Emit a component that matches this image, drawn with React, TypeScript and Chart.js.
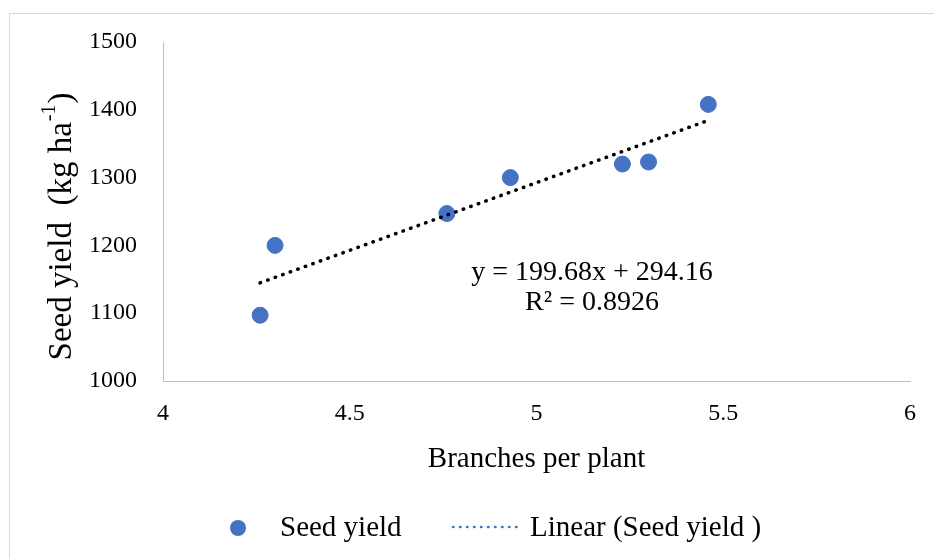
import React, { useEffect, useRef } from "react";
import { Chart, registerables } from "chart.js";

Chart.register(...registerables);

// ---- data ----
const branchesPerPlant = [4.26, 4.3, 4.76, 4.93, 5.23, 5.3, 5.46];
const seedYield = [1097, 1200, 1247, 1300, 1320, 1323, 1408];
const trendSlope = 199.68;
const trendIntercept = 294.16;
const trendR2 = "0.8926";
const xTickValues = [4, 4.5, 5, 5.5, 6];
const yTickValues = [1000, 1100, 1200, 1300, 1400, 1500];
const xTitle = "Branches per plant";
const yTitleMain = "Seed yield  (kg ha";
const yTitleSup = "-1";
const yTitleEnd = ")";
const seriesName = "Seed yield";
const trendName = "Linear (Seed yield )";

const FONT = "'Liberation Serif', 'Times New Roman', serif";
const BLUE = "#4472C4";

const xMin = Math.min(...branchesPerPlant);
const xMax = Math.max(...branchesPerPlant);
const trendPoints = [
  { x: xMin, y: trendSlope * xMin + trendIntercept },
  { x: xMax, y: trendSlope * xMax + trendIntercept },
];

const textPlugin = {
  id: "customText",
  afterDraw(chart: any) {
    const { ctx, chartArea } = chart;
    const ca = chartArea;
    ctx.save();
    ctx.fillStyle = "#000";
    // x title
    ctx.font = `29px ${FONT}`;
    ctx.textAlign = "center";
    ctx.textBaseline = "middle";
    ctx.fillText(xTitle, (ca.left + ca.right) / 2, ca.bottom + 78);

    // y title rotated with superscript
    ctx.save();
    ctx.translate(62, (ca.top + ca.bottom) / 2 + 15);
    ctx.rotate(-Math.PI / 2);
    ctx.textBaseline = "middle";
    ctx.textAlign = "left";
    ctx.font = `33px ${FONT}`;
    const w1 = ctx.measureText(yTitleMain).width;
    ctx.font = `20px ${FONT}`;
    const w2 = ctx.measureText(yTitleSup).width;
    ctx.font = `33px ${FONT}`;
    const w3 = ctx.measureText(yTitleEnd).width;
    const total = w1 + w2 + w3 + 2;
    let x = -total / 2;
    ctx.fillText(yTitleMain, x, 0);
    x += w1 + 1;
    ctx.font = `20px ${FONT}`;
    ctx.fillText(yTitleSup, x, -12);
    x += w2 + 1;
    ctx.font = `33px ${FONT}`;
    ctx.fillText(yTitleEnd, x, 0);
    ctx.restore();

    // equation
    ctx.font = `28px ${FONT}`;
    ctx.textAlign = "center";
    ctx.textBaseline = "middle";
    const eq = `y = ${trendSlope}x + ${trendIntercept}`;
    ctx.fillText(eq, 592, 273);
    ctx.fillText(`R² = ${trendR2}`, 592, 303);

    // legend
    const ly = 528;
    ctx.beginPath();
    ctx.arc(238, ly, 8, 0, Math.PI * 2);
    ctx.fillStyle = BLUE;
    ctx.fill();
    ctx.fillStyle = "#000";
    ctx.font = `29px ${FONT}`;
    ctx.textAlign = "left";
    ctx.fillText(seriesName, 280, ly);
    ctx.beginPath();
    ctx.strokeStyle = BLUE;
    ctx.lineWidth = 2.5;
    ctx.lineCap = "round";
    ctx.setLineDash([0.5, 6.5]);
    ctx.moveTo(453, ly - 1);
    ctx.lineTo(522, ly - 1);
    ctx.stroke();
    ctx.setLineDash([]);
    ctx.fillText(trendName, 530, ly);
    ctx.restore();
  },
};

export default function App() {
  const ref = useRef<HTMLCanvasElement | null>(null);
  useEffect(() => {
    if (!ref.current) return;
    const chart = new Chart(ref.current, {
      type: "scatter",
      data: {
        datasets: [
          {
            type: "line",
            label: trendName,
            data: trendPoints,
            borderColor: "#000",
            borderWidth: 3.5,
            borderDash: [0.5, 7.5],
            borderCapStyle: "round",
            pointRadius: 0,
            fill: false,
            order: 1,
          } as any,
          {
            type: "scatter",
            label: seriesName,
            data: branchesPerPlant.map((x, i) => ({ x, y: seedYield[i] })),
            backgroundColor: BLUE,
            borderColor: BLUE,
            pointRadius: 8,
            pointHoverRadius: 8,
            order: 2,
          },
        ],
      },
      options: {
        responsive: false,
        animation: false,
        devicePixelRatio: 1,
        layout: { padding: { left: 0, right: 24, top: 42, bottom: 0 } },
        plugins: { legend: { display: false }, tooltip: { enabled: false } },
        scales: {
          x: {
            type: "linear",
            min: xTickValues[0],
            max: xTickValues[xTickValues.length - 1],
            afterBuildTicks: (s: any) => {
              s.ticks = xTickValues.map((v) => ({ value: v }));
            },
            afterFit: (s: any) => {
              s.height = 178;
            },
            grid: { display: false, drawTicks: false },
            border: { display: true, color: "#bfbfbf", width: 1 },
            ticks: {
              padding: 18,
              color: "#000",
              font: { family: FONT, size: 24 },
              callback: (v: any) => String(v),
              maxRotation: 0,
            },
          },
          y: {
            type: "linear",
            min: yTickValues[0],
            max: yTickValues[yTickValues.length - 1],
            afterBuildTicks: (s: any) => {
              s.ticks = yTickValues.map((v) => ({ value: v }));
            },
            afterFit: (s: any) => {
              s.width = 163;
            },
            grid: { display: false, drawTicks: false },
            border: { display: true, color: "#bfbfbf", width: 1 },
            ticks: {
              padding: 26,
              color: "#000",
              font: { family: FONT, size: 24 },
              callback: (v: any) => String(v),
            },
          },
        },
      },
      plugins: [textPlugin],
    });
    return () => chart.destroy();
  }, []);
  return (
    <div
      style={{
        position: "fixed",
        left: 0,
        top: 0,
        width: 934,
        height: 559,
        overflow: "hidden",
        background: "#fff",
      }}
    >
      <div
        style={{
          position: "absolute",
          left: 9,
          top: 13,
          width: 940,
          height: 600,
          border: "1px solid #d9d9d9",
        }}
      />
      <canvas
        ref={ref}
        width={934}
        height={559}
        style={{ position: "absolute", left: 0, top: 0, width: 934, height: 559 }}
      />
    </div>
  );
}
